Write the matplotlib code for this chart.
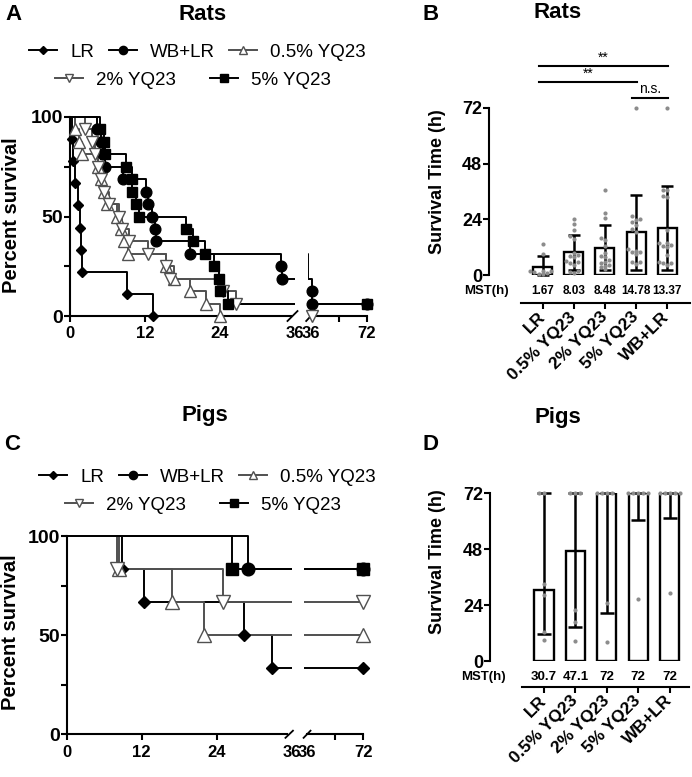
import numpy as np
import matplotlib
matplotlib.use("Agg")
import matplotlib.pyplot as plt
from matplotlib.lines import Line2D

plt.rcParams['font.family'] = ['Liberation Sans', 'DejaVu Sans']

W, H = 692, 777

groups = ["LR", "WB+LR", "0.5% YQ23", "2% YQ23", "5% YQ23"]
bar_order = ["LR", "0.5% YQ23", "2% YQ23", "5% YQ23", "WB+LR"]

# survival times in hours, 72 = still alive at the end (censored)
rat_lr = [0.3, 0.5, 0.8, 1.3, 1.67, 1.8, 1.9, 9.2, 13.3]
rat_wb = [4.3, 5.0, 5.3, 5.6, 8.5, 12.2, 12.5, 13.1, 13.6, 13.7, 19.2, 33.8, 33.9, 36.5, 36.6, 72]
rat_y05 = [0.8, 1.5, 1.9, 4.5, 5.0, 5.5, 5.9, 7.6, 8.2, 8.6, 9.3, 15.4, 16.6, 19.2, 21.8, 24.0]
rat_y2 = [2.4, 3.5, 4.0, 4.5, 5.0, 5.5, 6.3, 7.9, 8.4, 9.5, 12.5, 15.3, 16.0, 24.5, 26.6, 36.8]
rat_y5 = [4.8, 5.4, 5.6, 9.0, 9.9, 10.0, 10.5, 11.1, 18.5, 19.7, 21.6, 23.0, 23.9, 24.0, 25.3, 72]
rat_mst = ["1.67", "8.03", "8.48", "14.78", "13.37"]

pig_lr = [8.9, 12.4, 28.3, 32.9, 72, 72]
pig_wb = [29.0, 72, 72, 72, 72, 72]
pig_y05 = [8.4, 16.8, 22.0, 72, 72, 72]
pig_y2 = [8.0, 25.0, 72, 72, 72, 72]
pig_y5 = [26.4, 72, 72, 72, 72, 72]
pig_mst = ["30.7", "47.1", "72", "72", "72"]

rats = {"LR": rat_lr, "WB+LR": rat_wb, "0.5% YQ23": rat_y05, "2% YQ23": rat_y2, "5% YQ23": rat_y5}
pigs = {"LR": pig_lr, "WB+LR": pig_wb, "0.5% YQ23": pig_y05, "2% YQ23": pig_y2, "5% YQ23": pig_y5}

GREY = '#505050'
styles = {
    "LR": dict(color='black', marker='D', mfc='black', mec='black', size=5.0),
    "WB+LR": dict(color='black', marker='o', mfc='black', mec='black', size=7.0),
    "0.5% YQ23": dict(color=GREY, marker='^', mfc='white', mec=GREY, size=7.5),
    "2% YQ23": dict(color=GREY, marker='v', mfc='white', mec=GREY, size=7.5),
    "5% YQ23": dict(color='black', marker='s', mfc='black', mec='black', size=6.5),
}

fig = plt.figure(figsize=(W / 100, H / 100), dpi=100)


def add_ax(left, right, top, bottom):
    return fig.add_axes([left / W, 1 - bottom / H, (right - left) / W, (bottom - top) / H])


def km_path(times, end=72.0):
    t = np.sort(np.asarray(times, float))
    n = len(t)
    s = 100.0
    xs, ys, ex, ey = [0.0], [100.0], [], []
    for ti in t:
        if ti >= end:
            break
        xs += [ti, ti]
        ys += [s, s - 100.0 / n]
        s -= 100.0 / n
        ex.append(ti)
        ey.append(s)
    if s > 1e-6:
        xs.append(end)
        ys.append(s)
        ex.append(end)
        ey.append(s)
    return xs, ys, np.array(ex), np.array(ey)


def km_panel(axl, axr, data, scale, slash_l, slash_r):
    for g in groups:
        st = styles[g]
        xs, ys, ex, ey = km_path(data[g])
        for a in (axl, axr):
            a.plot(xs, ys, color=st['color'], lw=1.4, zorder=2)
        kw = dict(ls='none', marker=st['marker'], ms=st['size'] * scale, mfc=st['mfc'],
                  mec=st['mec'], mew=1.0, zorder=3, clip_on=False)
        axl.plot(ex[ex <= 36], ey[ex <= 36], **kw)
        axr.plot(ex[ex > 36], ey[ex > 36], **kw)

    for a in (axl, axr):
        a.set_ylim(-4, 104)
        a.spines['top'].set_visible(False)
        a.spines['right'].set_visible(False)
        a.spines['bottom'].set_position(('data', 0))
        a.spines['bottom'].set_linewidth(1.5)
        a.tick_params(axis='x', length=4.5, width=1.5, labelsize=12, pad=3)
    axl.set_xlim(-1.5, 36)
    axr.set_xlim(34, 74)
    axl.spines['left'].set_position(('data', 0))
    axl.spines['left'].set_bounds(0, 100)
    axl.spines['left'].set_linewidth(1.5)
    axl.spines['bottom'].set_bounds(0, 35.3)
    axr.spines['left'].set_visible(False)
    axr.spines['bottom'].set_bounds(36, 72)

    axl.set_yticks([0, 50, 100])
    axl.set_yticks([25, 75], minor=True)
    axl.tick_params(axis='y', which='both', length=4.5, width=1.5, labelsize=14, pad=0.5)
    axl.set_xticks([0, 12, 24, 36])
    axr.set_yticks([])
    axr.set_xticks([36, 54, 72])
    axr.set_xticklabels(['36', '', '72'])
    for a in (axl, axr):
        for lb in a.get_xticklabels() + a.get_yticklabels():
            lb.set_fontweight('bold')
    axl.xaxis.get_major_ticks()[-1].tick1line.set_visible(False)
    axr.xaxis.get_major_ticks()[0].tick1line.set_visible(False)

    # break marks
    cx, dx, dy = slash_l
    axl.plot([cx - dx, cx + dx], [-dy, dy], color='k', lw=1.3, clip_on=False)
    cx, dx, dy = slash_r
    axr.plot([cx - dx, cx + dx], [-dy, dy], color='k', lw=1.3, clip_on=False)


def swarm(vals, ythr, step):
    placed = []
    offs = []
    cands = [0.0]
    for j in range(1, 8):
        cands += [-j * step, j * step]
    for v in vals:
        for c in cands:
            if all(abs(c - po) > step * 0.9 or abs(v - pv) >= ythr for po, pv in placed):
                break
        placed.append((c, v))
        offs.append(c)
    return np.array(offs)


def bar_panel(ax, data, heights, err_lo, err_hi, mst, xmax, outward, mst_off, mst_size,
              mst_lab_x, capsize, step):
    x = np.arange(len(bar_order))
    ax.bar(x, heights, width=0.61, facecolor='white', edgecolor='black', lw=1.7, zorder=2)
    ax.errorbar(x, heights, yerr=[err_lo, err_hi], fmt='none', ecolor='black',
                elinewidth=1.8, capsize=capsize, capthick=1.8, zorder=3, clip_on=False)
    for i, g in enumerate(bar_order):
        v = np.asarray(data[g], float)
        off = swarm(v, 1.5, step)
        ax.scatter(x[i] + off, v, s=9, color='#8c8c8c', lw=0, zorder=4, clip_on=False)
    ax.set_xlim(x[0] - 1.72, xmax)
    ax.set_ylim(0, 72)
    ax.spines['top'].set_visible(False)
    ax.spines['right'].set_visible(False)
    ax.spines['left'].set_bounds(0, 72)
    ax.spines['left'].set_linewidth(1.5)
    ax.spines['bottom'].set_position(('outward', outward))
    ax.spines['bottom'].set_bounds(-0.7, xmax)
    ax.spines['bottom'].set_linewidth(1.5)
    ax.set_yticks([0, 24, 48, 72])
    ax.tick_params(axis='y', length=4.5, width=1.5, labelsize=13, pad=0.5)
    ax.set_xticks(x)
    ax.set_xticklabels(bar_order, rotation=45, ha='right', va='center', rotation_mode='anchor')
    ax.tick_params(axis='x', length=4, width=1.5, labelsize=12.5, pad=4)
    for lb in ax.get_xticklabels() + ax.get_yticklabels():
        lb.set_fontweight('bold')
    for i, m in enumerate(mst):
        ax.annotate(m, xy=(x[i], 0), xytext=(0, -mst_off), textcoords='offset points',
                    ha='center', va='center', fontsize=mst_size, fontweight='bold',
                    annotation_clip=False)
    ax.annotate("MST(h)", xy=(mst_lab_x, 0), xytext=(0, -mst_off), textcoords='offset points',
                ha='right', va='center', fontsize=9.5, fontweight='bold', annotation_clip=False)


# ---------- A : rats survival ----------
axA = add_ax(60.6, 295, 109, 324)
axA2 = add_ax(307.9, 370.1, 109, 324)
km_panel(axA, axA2, rats, 1.1, (35.6, 0.8, 2.5), (35.9, 3.0, 2.5))

# ---------- C : pigs survival ----------
axC = add_ax(57.3, 291.7, 528.1, 742.2)
axC2 = add_ax(303.6, 366.4, 528.1, 742.2)
km_panel(axC, axC2, pigs, 1.3, (35.6, 0.6, 1.8), (36.2, 2.2, 1.8))

# ---------- B : rats survival time ----------
axB = add_ax(489, 689.6, 108, 275)
rb_mean = np.array([np.mean(rats[g]) for g in bar_order])
rb_sd = np.array([np.std(rats[g], ddof=1) for g in bar_order])
bar_panel(axB, rats, rb_mean, np.minimum(rb_sd, rb_mean), rb_sd, rat_mst, 4.72, 20.5, 11.2, 8.5,
          -1.09, 4.3, 0.13)

sig_pairs = [(0, 4, '**', 90.2), (0, 3, '**', 83.3), (3, 4, 'n.s.', 76.4)]
for i, j, lab, yv in sig_pairs:
    axB.plot([i - 0.12, j + 0.04], [yv, yv], color='black', lw=1.5, clip_on=False)
    axB.text((i + j) / 2 - 0.05, yv + 0.6, lab, ha='center', va='bottom', fontsize=10)

# ---------- D : pigs survival time ----------
axD = add_ax(490, 688.5, 493, 661)
pd_med = np.array([np.median(pigs[g]) for g in bar_order])
pd_q = np.array([np.percentile(pigs[g], [25, 75], method='weibull') for g in bar_order])
bar_panel(axD, pigs, pd_med, pd_med - pd_q[:, 0], pd_q[:, 1] - pd_med, pig_mst, 4.6, 18.7, 11.5,
          9.5, -1.23, 4.7, 0.16)

# ---------- legends ----------
def legend_handles(names, ms_scale):
    hs = []
    for g in names:
        st = styles[g]
        hs.append(Line2D([], [], color=st['color'], lw=1.4, marker=st['marker'],
                         ms=st['size'] * ms_scale, mfc=st['mfc'], mec=st['mec'], mew=1.0))
    return hs


row1 = ["LR", "WB+LR", "0.5% YQ23"]
row2 = ["2% YQ23", "5% YQ23"]
for (cx1, cy1), (cx2, cy2) in [((197.5, 52), (193, 80)), ((207.5, 477), (203, 505))]:
    l1 = fig.legend(legend_handles(row1, 0.85), row1, loc='center',
                    bbox_to_anchor=(cx1 / W, 1 - cy1 / H), ncol=3, frameon=False,
                    fontsize=13.5, handlelength=1.5, handletextpad=0.7, columnspacing=0.75,
                    borderpad=0, borderaxespad=0)
    l2 = fig.legend(legend_handles(row2, 0.85), row2, loc='center',
                    bbox_to_anchor=(cx2 / W, 1 - cy2 / H), ncol=2, frameon=False,
                    fontsize=13.5, handlelength=1.5, handletextpad=0.7, columnspacing=1.8,
                    borderpad=0, borderaxespad=0)

# ---------- titles, panel letters, axis titles ----------
def ftext(x, y, s, **kw):
    fig.text(x / W, 1 - y / H, s, **kw)


ftext(203, 14, "Rats", ha='center', va='center', fontsize=16, fontweight='bold')
ftext(558, 13, "Rats", ha='center', va='center', fontsize=16, fontweight='bold')
ftext(205, 415, "Pigs", ha='center', va='center', fontsize=16, fontweight='bold')
ftext(558, 417, "Pigs", ha='center', va='center', fontsize=16, fontweight='bold')
for lab, x, y in [("A", 5, 14), ("B", 422, 14), ("C", 4, 445), ("D", 422, 445)]:
    ftext(x, y, lab, ha='left', va='center', fontsize=16, fontweight='bold')

ftext(12, 215, "Percent survival", rotation=90, ha='center', va='center', fontsize=14.5,
      fontweight='bold')
ftext(11, 632, "Percent survival", rotation=90, ha='center', va='center', fontsize=14.5,
      fontweight='bold')
ftext(438, 182, "Survival Time (h)", rotation=90, ha='center', va='center', fontsize=13,
      fontweight='bold')
ftext(438, 562, "Survival Time (h)", rotation=90, ha='center', va='center', fontsize=13,
      fontweight='bold')

fig.savefig("out.png", dpi=100)
